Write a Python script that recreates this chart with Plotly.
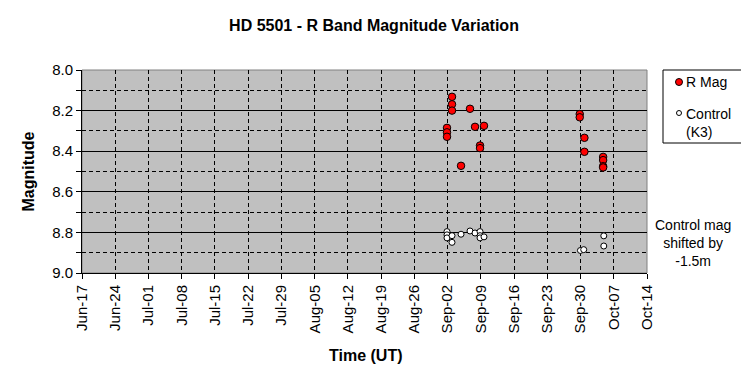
import plotly.graph_objects as go

# R band magnitudes of HD 5501
r_dates = ["2006-09-01 21:00", "2006-09-01 21:00", "2006-09-01 21:00",
           "2006-09-02 22:20", "2006-09-02 22:20", "2006-09-02 22:20",
           "2006-09-04 19:55", "2006-09-06 17:17", "2006-09-07 18:43",
           "2006-09-08 19:55", "2006-09-08 19:55", "2006-09-09 16:05",
           "2006-09-29 19:55", "2006-09-29 19:55",
           "2006-09-30 19:40", "2006-09-30 19:40",
           "2006-10-04 18:14", "2006-10-04 18:14", "2006-10-04 18:14", "2006-10-04 18:14"]
r_mag = [8.285, 8.307, 8.329,
         8.132, 8.169, 8.200,
         8.472, 8.191, 8.280,
         8.372, 8.385, 8.275,
         8.217, 8.233,
         8.334, 8.403,
         8.428, 8.444, 8.474, 8.480]

# Control star (K3), shifted by -1.5 m
c_dates = ["2006-09-01 21:00", "2006-09-01 21:00", "2006-09-01 21:00",
           "2006-09-02 22:20", "2006-09-02 22:20",
           "2006-09-04 19:55", "2006-09-06 17:17", "2006-09-07 18:43",
           "2006-09-08 19:55", "2006-09-08 19:55", "2006-09-08 19:55",
           "2006-09-09 16:05",
           "2006-09-29 23:30", "2006-09-30 16:05",
           "2006-10-04 21:36", "2006-10-04 21:36"]
c_mag = [8.796, 8.812, 8.827,
         8.816, 8.849,
         8.809, 8.793, 8.803,
         8.796, 8.816, 8.827,
         8.822,
         8.889, 8.885,
         8.817, 8.867]

x_range = ["2006-06-17", "2006-10-14"]
y_range = [9.0, 8.0]

title_text = "HD 5501 - R Band Magnitude Variation"
x_title = "Time (UT)"
y_title = "Magnitude"
note_text = "Control mag<br>shifted by<br>-1.5m"
legend_r = "R Mag"
legend_c = "Control<br>(K3)"

FONT = "Liberation Sans, Arial, sans-serif"

# page body has an 8px margin: figure is placed at (8, 8)
OFF = 8
W, H = 749 - OFF, 382 - OFF
PL, PR, PT, PB = 82, 647, 70, 273          # plot area in page pixels
PW, PH = PR - PL, PB - PT


def px(xp):
    return (xp - PL) / PW


def py(yp):
    return (PB - yp) / PH


RED = "#FF0000"

fig = go.Figure()
fig.add_trace(go.Scatter(
    x=r_dates, y=r_mag, mode="markers", name="R Mag",
    marker=dict(symbol="circle", size=7.5, color=RED,
                line=dict(color="black", width=1)),
))
fig.add_trace(go.Scatter(
    x=c_dates, y=c_mag, mode="markers", name="Control (K3)",
    marker=dict(symbol="circle", size=6, color="white",
                line=dict(color="black", width=1)),
))

shapes = [
    dict(type="rect", xref="paper", yref="paper", x0=0, x1=1, y0=0, y1=1,
         line=dict(color="#808080", width=1), layer="below"),
    # hand-drawn legend box (Excel style)
    dict(type="rect", xref="paper", yref="paper", x0=px(663), x1=px(744),
         y0=py(143), y1=py(70), line=dict(color="black", width=1),
         fillcolor="white", layer="above"),
    dict(type="circle", xref="paper", yref="paper", xsizemode="pixel",
         ysizemode="pixel", xanchor=px(679), yanchor=py(82),
         x0=-3.5, x1=3.5, y0=-3.5, y1=3.5,
         fillcolor=RED, line=dict(color="black", width=1)),
    dict(type="circle", xref="paper", yref="paper", xsizemode="pixel",
         ysizemode="pixel", xanchor=px(679), yanchor=py(113),
         x0=-2.5, x1=2.5, y0=-2.5, y1=2.5,
         fillcolor="white", line=dict(color="black", width=1)),
]

annotations = [
    dict(text="<b>" + y_title + "</b>", xref="paper", yref="paper",
         x=px(28), y=0.5, textangle=-90, showarrow=False,
         xanchor="center", yanchor="middle", font=dict(size=16, family=FONT)),
    dict(text="<b>" + x_title + "</b>", xref="paper", yref="paper",
         x=px(365), y=py(355), showarrow=False,
         xanchor="center", yanchor="middle", font=dict(size=16, family=FONT)),
    dict(text=note_text, xref="paper", yref="paper",
         x=px(693), y=py(243), showarrow=False,
         xanchor="center", yanchor="middle", align="center",
         font=dict(size=14, family=FONT)),
    dict(text=legend_r, xref="paper", yref="paper",
         x=px(684), y=py(82), showarrow=False,
         xanchor="left", yanchor="middle", align="left",
         font=dict(size=14, family=FONT)),
    dict(text=legend_c, xref="paper", yref="paper",
         x=px(684), y=py(122.5), showarrow=False,
         xanchor="left", yanchor="middle", align="left",
         font=dict(size=14, family=FONT)),
]

fig.update_layout(
    width=W, height=H,
    margin=dict(l=PL - OFF, r=W - (PR - OFF), t=PT - OFF, b=H - (PB - OFF),
                autoexpand=False),
    paper_bgcolor="white",
    plot_bgcolor="#C0C0C0",
    font=dict(family=FONT, size=15, color="black"),
    title=dict(text="<b>" + title_text + "</b>", xref="container",
               x=(374 - OFF) / W, xanchor="center",
               y=1 - (25 - OFF) / H, yanchor="middle",
               font=dict(size=16, family=FONT, color="black")),
    showlegend=False,
    xaxis=dict(
        type="date", range=x_range, tick0="2006-06-17", dtick=7 * 86400000,
        tickformat="%b-%d", tickangle=-90,
        showline=True, linecolor="black", linewidth=1,
        ticks="outside", ticklen=5, tickcolor="black",
        showgrid=True, gridcolor="black", griddash="4px,3px", gridwidth=1,
        zeroline=False, tickfont=dict(size=15, family=FONT),
    ),
    yaxis=dict(
        range=y_range, tick0=8.0, dtick=0.2, tickformat=".1f",
        showline=True, linecolor="black", linewidth=1,
        ticks="outside", ticklen=5, tickcolor="black",
        showgrid=True, gridcolor="black", gridwidth=1,
        minor=dict(dtick=0.1, showgrid=True, gridcolor="black",
                   griddash="4px,3px", ticks="outside", ticklen=5,
                   tickcolor="black"),
        zeroline=False, tickfont=dict(size=15, family=FONT),
    ),
    shapes=shapes,
    annotations=annotations,
)

fig.write_html("out.html")
